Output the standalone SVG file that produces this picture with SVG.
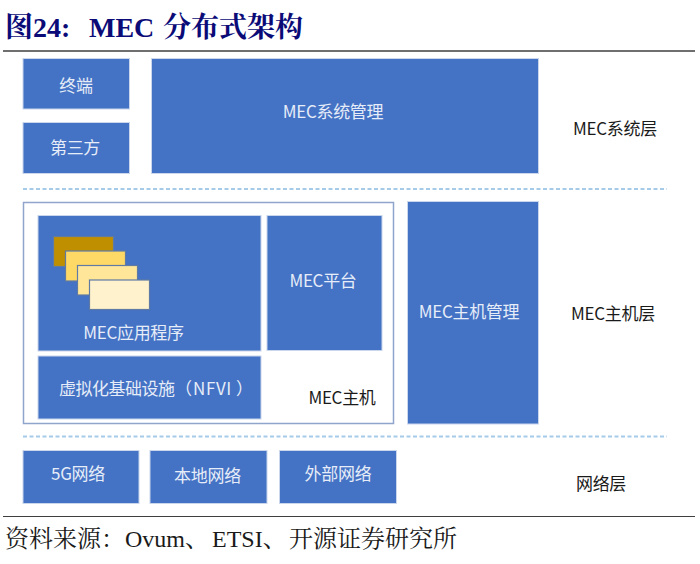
<svg xmlns="http://www.w3.org/2000/svg" width="700" height="564" viewBox="0 0 700 564">
<style>
.b{fill:#4472c4;stroke:#c9d6ec;stroke-width:1}
.t{font-family:"Noto Sans CJK SC","Noto Sans",sans-serif;font-size:17px;text-anchor:middle;letter-spacing:-.3px}
.w{fill:#e6edf8}
.k{fill:#1a1a1a}
.d{stroke:#a6cbe9;stroke-width:2;stroke-dasharray:4 2.500;fill:none}
.r{stroke:#3f3f3f;fill:none}
.s{font-family:"Liberation Serif","Noto Serif CJK SC","Noto Sans CJK SC",serif}
.h{font-size:28px;font-weight:700;fill:#0b0b78}
.c{stroke:#5f7ba3;stroke-width:1.200}
</style>
<rect width="700" height="564" fill="#fff"/>
<g id="title"><text x="5" y="37" class="s h">图</text><text x="33" y="37" class="s h">24:</text><text x="89" y="37" class="s h">MEC</text><text x="163" y="37" class="s h">分布式架构</text></g>
<g id="rules"><line x1="3" x2="695" y1="51" y2="51" class="r" stroke-width="1.500"/><line x1="3" x2="695" y1="516.500" y2="516.500" class="r" stroke-width="1.200"/></g>
<g id="connectors"><line x1="23" x2="667" y1="189" y2="189" class="d"/><line x1="23" x2="667" y1="436.500" y2="436.500" class="d"/></g>
<g id="terminal"><rect x="23" y="58.500" width="106.500" height="50.500" class="b"/><text x="76" y="92" class="t w">终端</text></g>
<g id="third-party"><rect x="23" y="122.500" width="106.500" height="51" class="b"/><text x="75" y="154" class="t w">第三方</text></g>
<g id="mec-system-mgmt"><rect x="151.500" y="58.500" width="387" height="115" class="b"/><text x="333" y="118" class="t w">MEC系统管理</text></g>
<g id="mec-system-layer"><text x="615" y="135" class="t k">MEC系统层</text></g>
<g id="mec-host"><rect x="23.500" y="202.500" width="370" height="221" fill="#fff" stroke="#8fa5cc" stroke-width="1.500"/><text x="342" y="404" class="t k">MEC主机</text></g>
<g id="mec-apps"><rect x="38" y="215.500" width="223" height="135.500" class="b"/>
<rect x="53.500" y="236.500" width="60" height="30" fill="#bf8f00" class="c"/><rect x="65.500" y="251" width="60" height="30" fill="#ffd966" class="c"/><rect x="77.500" y="265.500" width="60" height="29.500" fill="#ffe699" class="c"/><rect x="89.500" y="280" width="60" height="29.500" fill="#fff2cc" class="c"/>
<text x="133.500" y="339" class="t w">MEC应用程序</text></g>
<g id="mec-platform"><rect x="267" y="215.500" width="115" height="135" class="b"/><text x="323" y="287" class="t w">MEC平台</text></g>
<g id="nfvi"><rect x="38" y="356" width="223" height="63" class="b"/><text x="59" y="395" class="t w" style="text-anchor:start;letter-spacing:-.5px">虚拟化基础设施<tspan x="175">（</tspan><tspan x="193" style="letter-spacing:.6px">NFVI</tspan><tspan x="236">）</tspan></text></g>
<g id="mec-host-mgmt"><rect x="407.500" y="201.500" width="131" height="222.500" class="b"/><text x="469" y="318" class="t w">MEC主机管理</text></g>
<g id="mec-host-layer"><text x="613" y="320" class="t k">MEC主机层</text></g>
<g id="net-5g"><rect x="23" y="450.500" width="116" height="53" class="b"/><text x="78" y="480" class="t w">5G网络</text></g>
<g id="net-local"><rect x="150" y="450.500" width="117" height="53" class="b"/><text x="207.500" y="482" class="t w">本地网络</text></g>
<g id="net-external"><rect x="279.500" y="450.500" width="117" height="53" class="b"/><text x="338" y="480" class="t w">外部网络</text></g>
<g id="net-layer"><text x="601" y="490" class="t k">网络层</text></g>
<g id="source"><text x="5" y="547" class="s" font-size="24" fill="#1a1a1a">资料来源：Ovum、<tspan x="212">ETSI、</tspan><tspan x="289">开源证券研究所</tspan></text></g>
</svg>
